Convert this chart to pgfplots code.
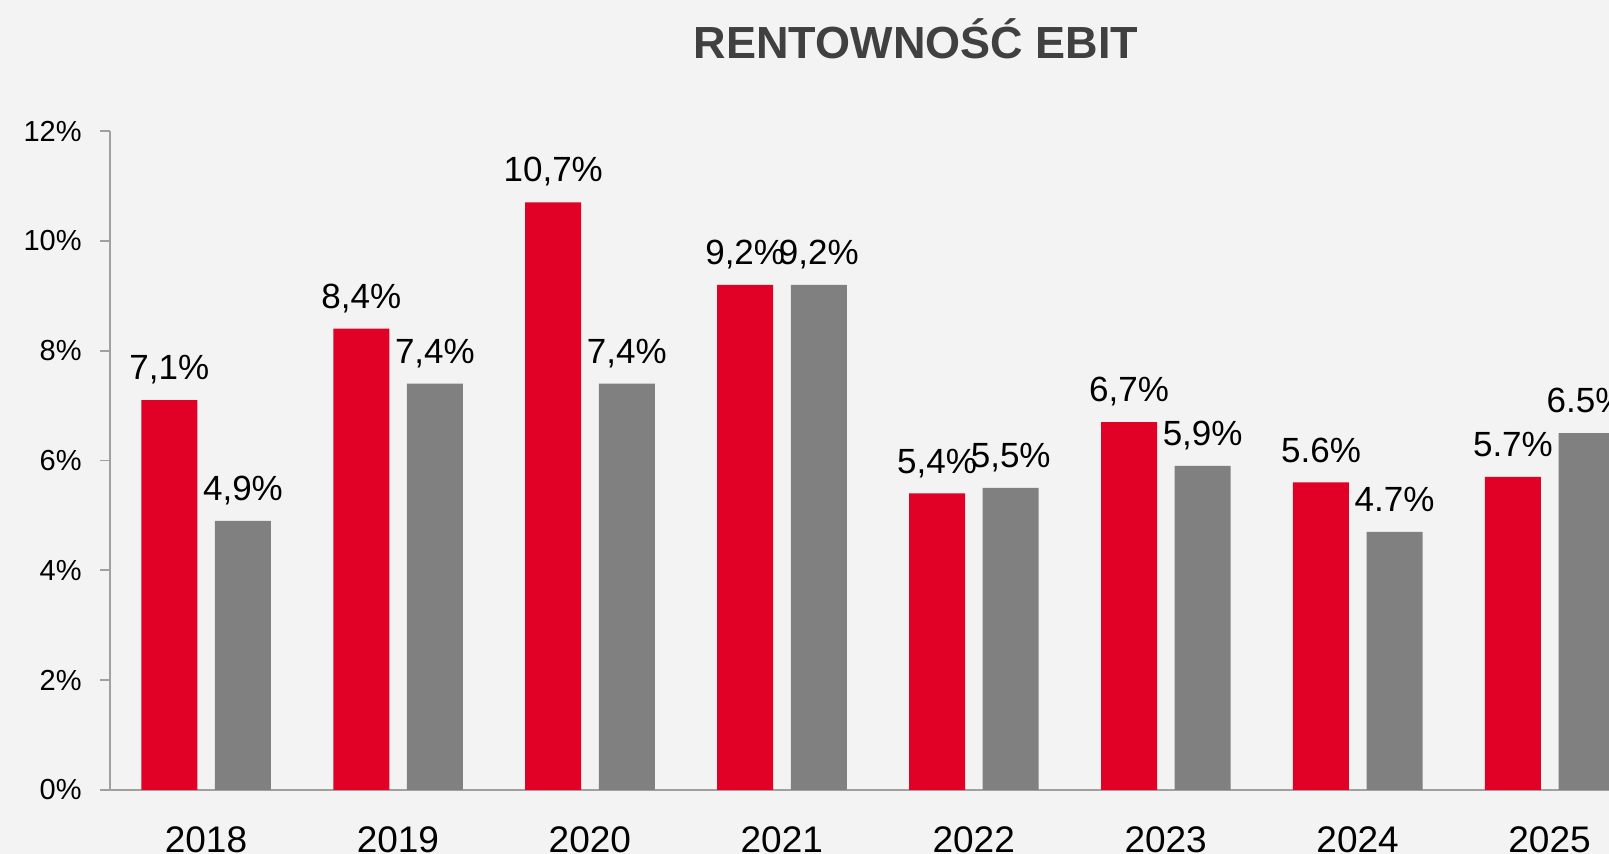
\documentclass[border=0pt]{standalone}
\usepackage{pgfplots}
\pgfplotsset{compat=1.18}
\usepackage{fontspec}
\setmainfont{Liberation Sans}
\definecolor{bg}{HTML}{F3F3F3}
\definecolor{redbar}{HTML}{E10026}
\definecolor{graybar}{HTML}{808080}
\definecolor{axisgray}{HTML}{A0A0A0}
\definecolor{titlecol}{HTML}{404040}
\begin{document}
\begin{tikzpicture}
\fill[bg] (-55pt,-32pt) rectangle (749.5pt,395pt);
\begin{axis}[
  at={(0,0)}, anchor=south west,
  scale only axis, width=749.5pt, height=329.5pt,
  xmin=-0.5, xmax=7.31, ymin=0, ymax=12,
  axis x line*=bottom, axis y line*=left,
  axis line style={axisgray, line width=0.9pt},
  every tick/.style={axisgray, line width=0.9pt},
  tick align=outside,
  xtick={0,...,7},
  xticklabels={2018,2019,2020,2021,2022,2023,2024,2025},
  x tick style={draw=none},
  extra x ticks={-0.5,0.5,1.5,2.5,3.5,4.5,5.5,6.5},
  extra x tick labels={},
  extra x tick style={major tick length=5pt, tick style={axisgray, line width=0.9pt}},
  xticklabel style={font=\fontsize{18.5}{20}\selectfont, anchor=north, inner sep=0pt, yshift=-13pt},
  ytick={0,2,4,6,8,10,12},
  yticklabels={0\%,2\%,4\%,6\%,8\%,10\%,12\%},
  major tick length=5pt,
  yticklabel style={font=\fontsize{14.5}{16}\selectfont, anchor=east, inner sep=0pt, xshift=-9pt},
  ybar, bar width=28pt,
  nodes near coords,
  point meta=explicit symbolic,
  every node near coord/.append style={font=\fontsize{17.5}{19}\selectfont, anchor=south, inner sep=0pt, text depth=0pt, yshift=10pt, black},
  clip=true,
]
\addplot[fill=redbar, draw=none, bar shift=-18.3pt] coordinates {
  (0,7.1) [7,1\%] (1,8.4) [8,4\%] (2,10.7) [10,7\%] (3,9.2) [9,2\%]
  (4,5.4) [5,4\%] (5,6.7) [6,7\%] (6,5.6) [5.6\%] (7,5.7) [5.7\%]
};
\addplot[fill=graybar, draw=none, bar shift=18.5pt] coordinates {
  (0,4.9) [4,9\%] (1,7.4) [7,4\%] (2,7.4) [7,4\%] (3,9.2) [9,2\%]
  (4,5.5) [5,5\%] (5,5.9) [5,9\%] (6,4.7) [4.7\%] (7,6.5) [6.5\%]
};
\end{axis}
\node[font=\bfseries\fontsize{22.5}{24}\selectfont, text=titlecol, anchor=base, inner sep=0pt] at (403pt,365.5pt) {RENTOWNOŚĆ EBIT};
\pgfresetboundingbox
\path[use as bounding box] (-55pt,-32pt) rectangle (749.5pt,395pt);
\end{tikzpicture}
\end{document}
